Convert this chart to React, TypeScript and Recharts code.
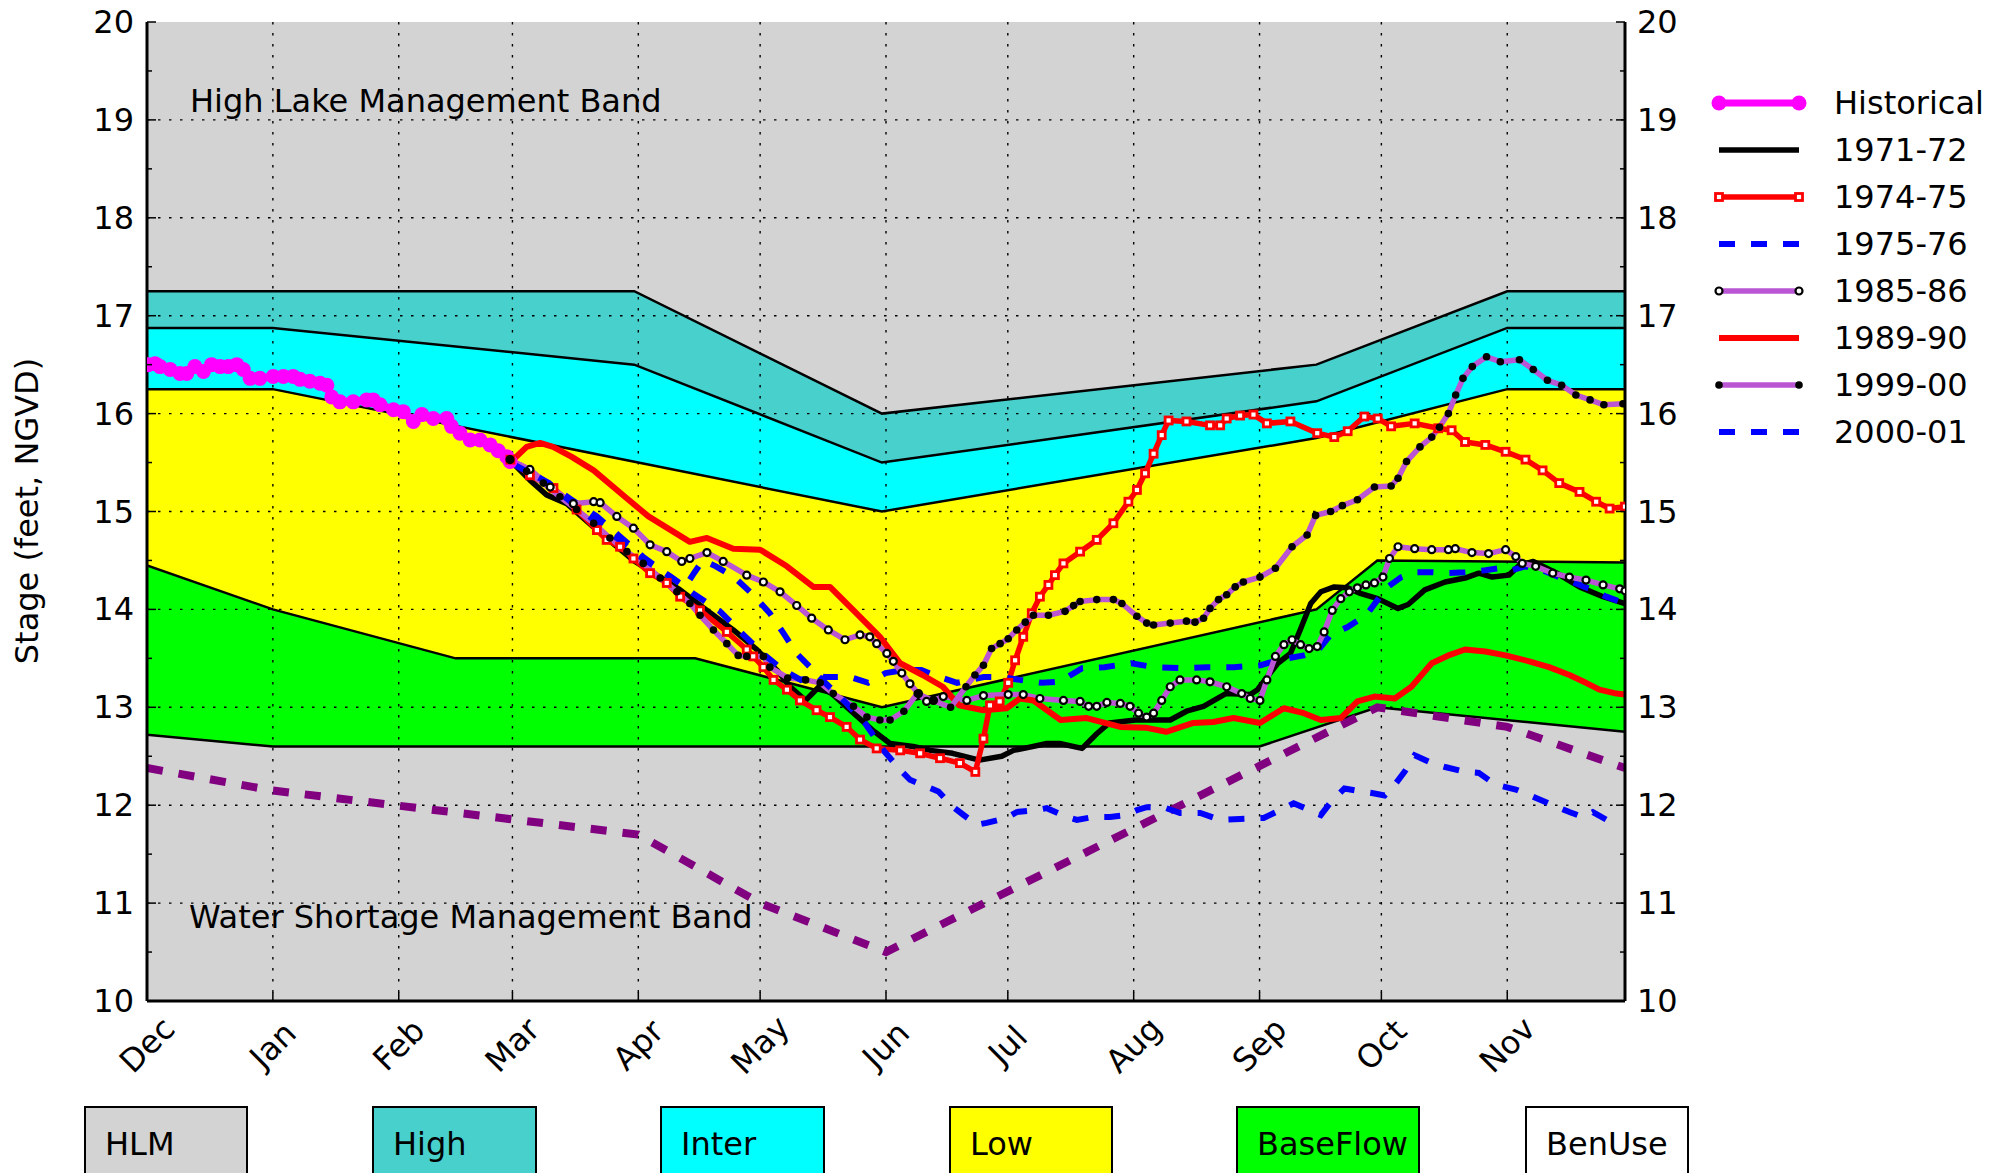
import React from 'react';
import { ComposedChart, Area, Line, XAxis, YAxis, CartesianGrid } from 'recharts';

const W = 1990;
const H = 1173;
const FONT = '"DejaVu Sans", "Liberation Sans", sans-serif';
const FS = 32;

// ---- axis definitions (x = days since Dec 1) ----
const monthTicks = [0, 31, 62, 90, 121, 151, 182, 212, 243, 274, 304, 335];
const monthLabels = ['Dec', 'Jan', 'Feb', 'Mar', 'Apr', 'May', 'Jun', 'Jul', 'Aug', 'Sep', 'Oct', 'Nov'];
const stageTicks = [10, 10.5, 11, 11.5, 12, 12.5, 13, 13.5, 14, 14.5, 15, 15.5, 16, 16.5, 17, 17.5, 18, 18.5, 19, 19.5, 20];
const gridStages = [11, 12, 13, 14, 15, 16, 17, 18, 19];

// ---- management band boundaries ----
const hlmTop: number[][] = [[0, 20], [364, 20]];
const highTop: number[][] = [[0, 17.25], [120, 17.25], [181, 16.0], [288, 16.5], [335, 17.25], [364, 17.25]];
const interTop: number[][] = [[0, 16.875], [31, 16.875], [120, 16.5], [181, 15.5], [288, 16.125], [335, 16.875], [364, 16.875]];
const lowTop: number[][] = [[0, 16.25], [31, 16.25], [181, 15.0], [288, 15.75], [335, 16.25], [364, 16.25]];
const baseTop: number[][] = [[0, 14.45], [31, 14.0], [76, 13.5], [135, 13.5], [181, 13.0], [288, 14.0], [303, 14.5], [364, 14.48]];
const wsmTop: number[][] = [[0, 12.72], [31, 12.6], [274, 12.6], [303, 13.0], [364, 12.75]];
const wsmLine: number[][] = [[0, 12.38], [31, 12.15], [121, 11.7], [151, 11.0], [182, 10.5], [303, 13.0], [335, 12.8], [364, 12.38]];

// ---- stage series ----
const historical: number[][] = [
  [0.3, 16.5], [2.0, 16.51], [3.2, 16.48], [5.7, 16.45], [8.1, 16.41], [9.8, 16.41], [11.8, 16.48], [13.9, 16.43],
  [15.9, 16.5], [18.0, 16.48], [20.0, 16.48], [22.1, 16.5], [23.7, 16.45], [25.4, 16.36], [27.8, 16.36], [31.1, 16.38],
  [33.6, 16.38], [36.0, 16.38], [37.7, 16.35], [40.1, 16.33], [42.6, 16.31], [44.3, 16.29], [45.5, 16.17], [47.5, 16.12],
  [50.8, 16.12], [54.1, 16.14], [55.7, 16.14], [57.4, 16.09], [60.7, 16.04], [63.1, 16.02], [65.6, 15.92], [67.7, 15.99],
  [70.5, 15.95], [73.8, 15.95], [75.0, 15.87], [77.1, 15.8], [79.6, 15.73], [82.0, 15.73], [84.5, 15.68], [86.5, 15.62],
  [88.6, 15.56], [89.4, 15.51],
];
const y1971: number[][] = [
  [89.5, 15.52], [94.3, 15.32], [98.4, 15.17], [103.4, 15.08], [110, 14.84], [114.9, 14.67], [119.8, 14.5], [125.5, 14.35],
  [131.3, 14.2], [137.9, 13.99], [144.4, 13.79], [150.2, 13.59], [155.1, 13.38], [158.4, 13.21], [162.2, 13.07], [165.5, 13.21],
  [168.7, 13.14], [173.2, 12.97], [178.6, 12.77], [183, 12.63], [188.7, 12.6], [193, 12.56], [198.4, 12.53], [205, 12.46],
  [210.5, 12.5], [213.4, 12.56], [216, 12.58], [221.6, 12.63], [224.8, 12.63], [230.3, 12.58], [233.9, 12.73], [237, 12.84],
  [243.5, 12.87], [252, 12.87], [256, 12.96], [260.2, 13.01], [265.7, 13.14], [271.7, 13.13], [273.5, 13.18], [276.6, 13.35],
  [278.5, 13.45], [281.6, 13.55], [284, 13.79], [286.6, 14.06], [289.1, 14.18], [292.4, 14.23], [295.7, 14.22], [299, 14.16],
  [303.1, 14.11], [308.1, 14.01], [310.6, 14.05], [314.7, 14.2], [319.7, 14.28], [324.6, 14.32], [328, 14.37], [331.3, 14.33],
  [335.4, 14.35], [338, 14.45], [341.4, 14.49], [347.2, 14.37], [352.8, 14.23], [358.6, 14.13], [364, 14.06],
];
const y1974: number[][] = [
  [89.5, 15.53], [94.3, 15.37], [100.1, 15.24], [105.8, 15.02], [110.8, 14.81], [113.2, 14.71], [116.5, 14.64], [119.8, 14.52],
  [123.9, 14.37], [128, 14.27], [131.3, 14.13], [136.2, 13.99], [142.8, 13.77], [147.7, 13.59], [149.3, 13.52], [151.8, 13.41],
  [154.3, 13.28], [157.6, 13.18], [160.8, 13.07], [164.9, 12.97], [168.2, 12.9], [172.3, 12.8], [175.6, 12.67], [179.7, 12.58],
  [185.5, 12.56], [190.4, 12.53], [195.3, 12.48], [200.2, 12.43], [204, 12.34], [206, 12.68], [207.6, 13.02], [210, 13.06],
  [212.1, 13.25], [213.8, 13.48], [215.8, 13.72], [217.9, 13.96], [219.9, 14.13], [222, 14.25], [223.6, 14.35], [225.7, 14.47],
  [229.8, 14.59], [233.9, 14.71], [238, 14.88], [241.7, 15.1], [243.8, 15.22], [245.8, 15.39], [247.9, 15.59], [249.9, 15.78],
  [251.6, 15.93], [256, 15.92], [261.8, 15.88], [264.3, 15.88], [265.9, 15.95], [269.2, 15.98], [272.5, 15.99], [275.8, 15.9],
  [281.6, 15.92], [288.2, 15.8], [292.4, 15.76], [295.7, 15.82], [299.8, 15.97], [303.1, 15.95], [306.4, 15.87], [312.2, 15.9],
  [318, 15.85], [321.3, 15.83], [324.6, 15.71], [329.6, 15.68], [334.6, 15.61], [339.5, 15.53], [343.7, 15.42], [347.8, 15.29],
  [352.8, 15.2], [356.9, 15.1], [360.2, 15.03], [364, 15.05],
];
const y1975: number[][] = [
  [89.5, 15.5], [91.9, 15.47], [98.4, 15.3], [104.2, 15.13], [110.8, 14.95], [116.9, 14.73], [122.1, 14.54], [127.6, 14.37],
  [132.5, 14.23], [134.7, 14.37], [136.9, 14.5], [140.1, 14.44], [144.6, 14.33], [149, 14.16], [153.4, 13.96], [156.7, 13.76],
  [160, 13.55], [163.3, 13.41], [166.6, 13.31], [173.2, 13.31], [177.6, 13.25], [181.9, 13.35], [186.4, 13.38], [190.7, 13.38],
  [195.1, 13.31], [199.5, 13.25], [206.1, 13.31], [210.5, 13.31], [214.9, 13.28], [220.4, 13.25], [224.8, 13.26], [230.3, 13.4],
  [235.8, 13.41], [242.4, 13.45], [247.9, 13.41], [254.5, 13.4], [261.1, 13.41], [267.7, 13.41], [274.3, 13.43], [278.3, 13.48],
  [284.9, 13.53], [288.2, 13.57], [291.5, 13.74], [295.7, 13.82], [299, 13.91], [300.6, 13.96], [303.1, 14.1], [305.6, 14.23],
  [308.9, 14.33], [312.2, 14.38], [316.4, 14.38], [319.7, 14.37], [324.6, 14.38], [329.6, 14.4], [332.9, 14.42], [336.2, 14.4],
  [339.5, 14.44], [343.7, 14.4], [347.8, 14.33], [351.1, 14.28], [355.3, 14.21], [359.4, 14.13], [364, 14.06],
];
const y1985: number[][] = [
  [89.4, 15.53], [94.3, 15.43], [99.3, 15.25], [105, 15.08], [110, 15.1], [111.6, 15.09], [115.7, 14.95], [119.8, 14.83],
  [123.9, 14.66], [128, 14.59], [131.7, 14.49], [133.7, 14.52], [137.9, 14.58], [141.9, 14.49], [147.7, 14.35], [151.8, 14.28],
  [155.9, 14.18], [160, 14.04], [163.7, 13.91], [167.8, 13.79], [171.9, 13.69], [175.6, 13.74], [178, 13.72], [179.7, 13.65],
  [182.2, 13.55], [183.8, 13.47], [185.9, 13.35], [187.9, 13.24], [190, 13.14], [192, 13.06], [193.7, 13.07], [196.1, 13.11],
  [201.9, 13.07], [206, 13.12], [212.1, 13.13], [215.8, 13.13], [219.9, 13.09], [225.7, 13.07], [229.8, 13.06], [231.9, 13.01],
  [233.9, 13.01], [236.4, 13.05], [239.7, 13.04], [242.1, 13.01], [244.2, 12.94], [246.2, 12.9], [247.9, 12.94], [249.9, 13.07],
  [252, 13.21], [254.4, 13.28], [258.5, 13.28], [261.8, 13.26], [265.9, 13.21], [269.6, 13.14], [271.7, 13.09], [274.1, 13.07],
  [275.8, 13.28], [277.9, 13.52], [280, 13.64], [282, 13.69], [284.1, 13.64], [286.2, 13.6], [288.2, 13.62], [289.9, 13.77],
  [291.9, 13.99], [294, 14.11], [296.1, 14.18], [298.1, 14.22], [300.2, 14.25], [302.3, 14.27], [304.4, 14.33], [306, 14.52],
  [308.1, 14.64], [312.2, 14.62], [316.4, 14.61], [320.5, 14.61], [322.2, 14.62], [326.3, 14.58], [330.4, 14.57], [334.6, 14.61],
  [337.1, 14.54], [338.7, 14.47], [342, 14.44], [346.2, 14.37], [350.3, 14.33], [354.4, 14.3], [358.6, 14.25], [362.7, 14.21],
  [364, 14.19],
];
const y1989: number[][] = [
  [90.2, 15.53], [93.5, 15.66], [96.8, 15.7], [100, 15.66], [104.5, 15.56], [110, 15.42], [117.7, 15.15], [123.5, 14.95],
  [133.7, 14.69], [137.9, 14.73], [144.4, 14.62], [151, 14.61], [157.6, 14.44], [164.1, 14.23], [168.2, 14.23], [174, 13.99],
  [180.5, 13.72], [185.5, 13.45], [191, 13.33], [196, 13.21], [200, 13.02], [206, 12.97], [211.7, 12.99], [215, 13.09],
  [218.3, 13.07], [225, 12.87], [231.4, 12.89], [239.7, 12.8], [246.2, 12.79], [251, 12.75], [257.7, 12.84], [262.6, 12.85],
  [267.6, 12.89], [274.1, 12.84], [280, 12.99], [284.9, 12.94], [289.1, 12.87], [294, 12.89], [298.1, 13.06], [302.3, 13.11],
  [307.3, 13.09], [311.4, 13.21], [316.4, 13.45], [320.5, 13.53], [324.6, 13.59], [329.6, 13.57], [334.6, 13.53], [340.4, 13.47],
  [345.3, 13.41], [350.3, 13.33], [354.4, 13.25], [357.7, 13.18], [361.9, 13.14], [364, 13.13],
];
const y1999: number[][] = [
  [89.4, 15.53], [93.5, 15.41], [97.6, 15.29], [101.7, 15.15], [105.8, 15.02], [110, 14.88], [114, 14.73], [118.2, 14.59],
  [122.2, 14.47], [126.4, 14.32], [130.5, 14.18], [133.7, 14.06], [136.2, 13.94], [139.5, 13.79], [142.8, 13.65], [145.6, 13.53],
  [147.7, 13.52], [151.8, 13.52], [153.4, 13.41], [157.8, 13.3], [162.2, 13.28], [165.8, 13.25], [169, 13.14], [174, 13.01],
  [177.3, 12.9], [180.5, 12.87], [183, 12.87], [186.4, 12.96], [189.7, 13.14], [193.5, 13.07], [197.9, 13.0], [201.7, 13.21],
  [203.9, 13.33], [206, 13.43], [208, 13.6], [210.1, 13.65], [212.1, 13.7], [214.2, 13.79], [216.3, 13.87], [218.3, 13.94],
  [222, 13.94], [226.1, 13.98], [228.2, 14.04], [229.8, 14.08], [233.9, 14.1], [238, 14.1], [240.1, 14.06], [243.8, 13.93],
  [246.2, 13.86], [247.9, 13.84], [252, 13.86], [256, 13.88], [258.1, 13.87], [260.2, 13.91], [261.8, 14.01], [263.9, 14.1],
  [265.9, 14.15], [268, 14.23], [270, 14.28], [274.1, 14.33], [277.9, 14.42], [282, 14.64], [285.7, 14.76], [287.8, 14.96],
  [291.5, 15.0], [294.4, 15.06], [298.1, 15.12], [302.3, 15.25], [306.4, 15.26], [308.1, 15.34], [310.2, 15.51], [313.5, 15.66],
  [316.4, 15.76], [318.3, 15.86], [320.5, 16.0], [322.3, 16.19], [324.1, 16.36], [326.4, 16.48], [329.9, 16.58], [333.3, 16.53],
  [338, 16.55], [341.4, 16.45], [344.9, 16.34], [348.4, 16.29], [351.9, 16.19], [355.4, 16.14], [358.8, 16.09], [363.5, 16.1],
];
const y2000: number[][] = [
  [89.5, 15.5], [94, 15.4], [99, 15.29], [105.7, 15.05], [110.5, 14.9], [116, 14.72], [121, 14.55], [128.8, 14.34],
  [134.6, 14.16], [141.1, 13.98], [146.9, 13.74], [152.2, 13.53], [156.7, 13.38], [161, 13.28], [165, 13.33], [171.1, 13.09],
  [176.8, 12.84], [181.4, 12.56], [185.5, 12.36], [187.9, 12.26], [192, 12.19], [194.9, 12.14], [198.6, 11.98], [201.1, 11.9],
  [204.4, 11.8], [206.8, 11.82], [211.7, 11.87], [214.2, 11.93], [219.1, 11.95], [221.6, 11.97], [226.5, 11.88], [229, 11.85],
  [233.1, 11.88], [237.2, 11.88], [241.3, 11.9], [243.8, 11.95], [246.2, 11.98], [250.3, 11.98], [254.4, 11.92], [259.4, 11.92],
  [264.3, 11.85], [269.2, 11.86], [275, 11.87], [279.1, 11.95], [282.4, 12.02], [286.2, 11.95], [289.1, 11.9], [291.9, 12.05],
  [294.9, 12.17], [299, 12.14], [302.3, 12.12], [304.8, 12.1], [307.3, 12.21], [309.7, 12.34], [312.2, 12.51], [316.4, 12.43],
  [319.7, 12.39], [324.6, 12.34], [328, 12.33], [332.1, 12.21], [337.1, 12.16], [341.2, 12.09], [346.2, 12.0], [350.3, 11.93],
  [353.6, 11.88], [356.1, 11.93], [359.5, 11.85], [362, 11.8],
];

// ---- legends ----
const seriesNames = ['Historical', '1971-72', '1974-75', '1975-76', '1985-86', '1989-90', '1999-00', '2000-01'];
const bandNames = ['HLM', 'High', 'Inter', 'Low', 'BaseFlow', 'BenUse'];
const bandColors = ['#d3d3d3', '#48d1cc', '#00ffff', '#ffff00', '#00ff00', '#ffffff'];

const pts = (arr: number[][]) => arr.map(([d, v]) => ({ d, v }));

const MAGENTA = '#ff00ff';
const ORCHID = '#ba55d3';
const BLUE = '#0000ff';
const RED = '#ff0000';
const PURPLE = '#800080';

// ---- tick renderers ----
const BottomTick = (props: any) => {
  const { x, y, payload } = props;
  const i = monthTicks.indexOf(payload.value);
  const cy = y + 44;
  return (
    <g>
      <line x1={x} y1={y} x2={x} y2={y - 9} stroke="#000" strokeWidth={1.5} />
      <text x={x} y={cy} transform={`rotate(-45 ${x} ${cy})`} textAnchor="middle" dominantBaseline="central"
        fontSize={FS} fontFamily={FONT} fill="#000">{monthLabels[i]}</text>
    </g>
  );
};
const TopTick = (props: any) => {
  const { x, y } = props;
  return <line x1={x} y1={y} x2={x} y2={y + 9} stroke="#000" strokeWidth={1.5} />;
};
const LeftTick = (props: any) => {
  const { x, y, payload } = props;
  const major = Number.isInteger(payload.value);
  return (
    <g>
      <line x1={x} y1={y} x2={x + (major ? 9 : 5)} y2={y} stroke="#000" strokeWidth={1.5} />
      {major && (
        <text x={x - 13} y={y} textAnchor="end" dominantBaseline="central" fontSize={FS} fontFamily={FONT} fill="#000">
          {payload.value}
        </text>
      )}
    </g>
  );
};
const RightTick = (props: any) => {
  const { x, y, payload } = props;
  const major = Number.isInteger(payload.value);
  return (
    <g>
      <line x1={x} y1={y} x2={x - (major ? 9 : 5)} y2={y} stroke="#000" strokeWidth={1.5} />
      {major && (
        <text x={x + 12} y={y} textAnchor="start" dominantBaseline="central" fontSize={FS} fontFamily={FONT} fill="#000">
          {payload.value}
        </text>
      )}
    </g>
  );
};

// ---- markers ----
const histDot = (p: any) => <circle key={`h${p.index}`} cx={p.cx} cy={p.cy} r={7.5} fill={MAGENTA} stroke="none" />;
const squareDot = (p: any) => (
  <rect key={`s${p.index}`} x={p.cx - 3.5} y={p.cy - 3.5} width={7} height={7} fill="#fff" stroke={RED} strokeWidth={2.8} />
);
const ringDot = (p: any) => <circle key={`o${p.index}`} cx={p.cx} cy={p.cy} r={3.5} fill="#fff" stroke="#000" strokeWidth={2.2} />;
const blackDot = (p: any) => <circle key={`b${p.index}`} cx={p.cx} cy={p.cy} r={3.8} fill="#000" stroke="none" />;

const bandArea = (key: string, data: number[][], fill: string, stroke: string) => (
  <Area key={key} xAxisId="b" yAxisId="l" data={pts(data)} dataKey="v" type="linear" fill={fill} fillOpacity={1}
    stroke={stroke} strokeWidth={2.5} isAnimationActive={false} dot={false} activeDot={false} baseValue={10} />
);

const seriesLine = (key: string, data: number[][], color: string, width: number, opts: any = {}) => (
  <Line key={key} xAxisId="b" yAxisId="l" data={pts(data)} dataKey="v" type="linear" stroke={color} strokeWidth={width}
    strokeLinejoin="round" isAnimationActive={false} activeDot={false} dot={false} {...opts} />
);

const LegendSample = ({ i, cy }: { i: number; cy: number }) => {
  const x1 = 1719;
  const x2 = 1799;
  switch (i) {
    case 0:
      return (
        <g>
          <line x1={x1} y1={cy} x2={x2} y2={cy} stroke={MAGENTA} strokeWidth={7} />
          <circle cx={x1} cy={cy} r={7.5} fill={MAGENTA} />
          <circle cx={x2} cy={cy} r={7.5} fill={MAGENTA} />
        </g>
      );
    case 1:
      return <line x1={x1} y1={cy} x2={x2} y2={cy} stroke="#000" strokeWidth={5.5} />;
    case 2:
      return (
        <g>
          <line x1={x1} y1={cy} x2={x2} y2={cy} stroke={RED} strokeWidth={5.5} />
          <rect x={x1 - 3.5} y={cy - 3.5} width={7} height={7} fill="#fff" stroke={RED} strokeWidth={2.8} />
          <rect x={x2 - 3.5} y={cy - 3.5} width={7} height={7} fill="#fff" stroke={RED} strokeWidth={2.8} />
        </g>
      );
    case 3:
    case 7:
      return <line x1={x1} y1={cy} x2={x2} y2={cy} stroke={BLUE} strokeWidth={6} strokeDasharray="16 16" />;
    case 4:
      return (
        <g>
          <line x1={x1} y1={cy} x2={x2} y2={cy} stroke={ORCHID} strokeWidth={5.5} />
          <circle cx={x1} cy={cy} r={3.5} fill="#fff" stroke="#000" strokeWidth={2.2} />
          <circle cx={x2} cy={cy} r={3.5} fill="#fff" stroke="#000" strokeWidth={2.2} />
        </g>
      );
    case 5:
      return <line x1={x1} y1={cy} x2={x2} y2={cy} stroke={RED} strokeWidth={6} />;
    default:
      return (
        <g>
          <line x1={x1} y1={cy} x2={x2} y2={cy} stroke={ORCHID} strokeWidth={5.5} />
          <circle cx={x1} cy={cy} r={3.8} fill="#000" />
          <circle cx={x2} cy={cy} r={3.8} fill="#000" />
        </g>
      );
  }
};

const boxLefts = [85, 373, 661, 950, 1237, 1526];
const boxWidths = [162, 163, 163, 162, 182, 162];

export default function App() {
  return (
    <div style={{ position: 'absolute', left: 0, top: 0, width: W, height: H, background: '#fff', overflow: 'hidden' }}>
      <div style={{ position: 'absolute', left: 0, top: 0 }}>
        <ComposedChart width={W} height={H} margin={{ top: 22, right: 305, bottom: 112, left: 87 }}>
          <XAxis xAxisId="b" dataKey="d" type="number" domain={[0, 364]} allowDataOverflow ticks={monthTicks} interval={0}
            tickLine={false} tickSize={0} tickMargin={0} height={60} axisLine={{ stroke: '#000', strokeWidth: 3 }} tick={BottomTick} />
          <XAxis xAxisId="t" orientation="top" dataKey="d" type="number" domain={[0, 364]} allowDataOverflow ticks={monthTicks}
            interval={0} tickLine={false} tickSize={0} tickMargin={0} height={0} axisLine={{ stroke: '#000', strokeWidth: 3 }} tick={TopTick} />
          <YAxis yAxisId="l" type="number" domain={[10, 20]} allowDataOverflow ticks={stageTicks} interval={0} width={60}
            tickLine={false} tickSize={0} tickMargin={0} axisLine={{ stroke: '#000', strokeWidth: 3 }} tick={LeftTick} />
          <YAxis yAxisId="r" orientation="right" type="number" domain={[10, 20]} allowDataOverflow ticks={stageTicks} interval={0}
            width={60} tickLine={false} tickSize={0} tickMargin={0} axisLine={{ stroke: '#000', strokeWidth: 3 }} tick={RightTick} />

          {bandArea('hlm', hlmTop, '#d3d3d3', 'none')}
          {bandArea('high', highTop, '#48d1cc', '#000')}
          {bandArea('inter', interTop, '#00ffff', '#000')}
          {bandArea('low', lowTop, '#ffff00', '#000')}
          {bandArea('base', baseTop, '#00ff00', '#000')}
          {bandArea('wsm', wsmTop, '#d3d3d3', '#000')}

          <CartesianGrid xAxisId="b" yAxisId="l" horizontalValues={gridStages} verticalValues={monthTicks}
            stroke="#000" strokeWidth={1.4} strokeDasharray="2.5 8.5" zIndex={150} />

          {seriesLine('wsmline', wsmLine, PURPLE, 8, { strokeDasharray: '16 16', strokeLinejoin: 'miter' })}
          {seriesLine('hist', historical, MAGENTA, 8, { dot: histDot })}
          {seriesLine('s1971', y1971, '#000', 5.5)}
          {seriesLine('s1974', y1974, RED, 5.5, { dot: squareDot })}
          {seriesLine('s1975', y1975, BLUE, 6, { strokeDasharray: '16 16', strokeLinejoin: 'miter' })}
          {seriesLine('s1985', y1985, ORCHID, 5.5, { dot: ringDot })}
          {seriesLine('s1989', y1989, RED, 6)}
          {seriesLine('s1999', y1999, ORCHID, 5.5, { dot: blackDot })}
          {seriesLine('s2000', y2000, BLUE, 6, { strokeDasharray: '16 16', strokeLinejoin: 'miter' })}
        </ComposedChart>
      </div>
      <svg width={W} height={H} style={{ position: 'absolute', left: 0, top: 0, pointerEvents: 'none' }}
        fontFamily={FONT} fontSize={FS}>
        <text x={38} y={511} transform="rotate(-90 38 511)" textAnchor="middle" fill="#000">Stage (feet, NGVD)</text>
        <text x={190} y={112} fill="#000">High Lake Management Band</text>
        <text x={189} y={928} fill="#000">Water Shortage Management Band</text>
        {seriesNames.map((n, i) => {
          const cy = 103 + 47 * i;
          return (
            <g key={n}>
              <LegendSample i={i} cy={cy} />
              <text x={1834} y={cy + 11} fill="#000">{n}</text>
            </g>
          );
        })}
        {bandNames.map((n, i) => (
          <g key={n}>
            <rect x={boxLefts[i]} y={1107} width={boxWidths[i]} height={100} fill={bandColors[i]} stroke="#000" strokeWidth={2} />
            <text x={boxLefts[i] + 20} y={1155} fill="#000">{n}</text>
          </g>
        ))}
      </svg>
    </div>
  );
}
